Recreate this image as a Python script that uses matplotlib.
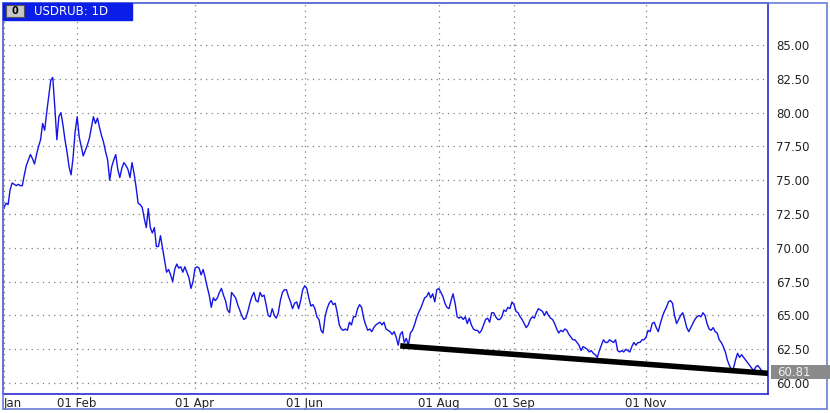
import matplotlib.pyplot as plt
from matplotlib.patches import Rectangle
from matplotlib.transforms import IdentityTransform

# daily closes, one value per bar (USDRUB, 1D)
closes = [
    73.0, 73.3, 73.2, 74.3, 74.8, 74.7, 74.6, 74.7, 74.6, 74.6,
    75.4, 76.1, 76.5, 76.9, 76.6, 76.2, 76.9, 77.5, 78.0, 79.2,
    78.7, 80.0, 81.2, 82.4, 82.6, 80.4, 78.0, 79.7, 80.0, 79.1,
    78.0, 77.1, 76.0, 75.4, 76.7, 78.6, 79.7, 78.2,
    77.5, 76.8, 77.2, 77.6, 78.1, 78.9, 79.7, 79.2, 79.6, 78.9,
    78.3, 77.8, 77.1, 76.5, 75.0, 76.0, 76.5, 76.9, 75.8, 75.2,
    75.9, 76.3, 76.1, 75.8, 75.2, 76.3, 75.5, 74.5, 73.3, 73.2,
    73.0, 72.2, 71.5, 72.9, 71.5, 71.1, 71.5, 70.1, 70.1, 70.9,
    70.0, 69.1, 68.2, 68.4, 68.0, 67.5, 68.4, 68.8, 68.5, 68.6,
    68.2, 68.6, 68.2, 67.8, 67.0, 67.5, 68.5, 68.6, 68.5, 68.0,
    68.4, 67.8, 67.1, 66.5, 65.6, 66.3, 66.1, 66.3, 66.7, 67.0,
    66.5, 66.1, 65.4, 65.2, 66.7, 66.5, 66.3, 65.8, 65.4, 65.0,
    64.7, 64.8, 65.3, 65.9, 66.4, 66.7, 66.1, 66.0, 66.7, 66.4,
    66.5, 65.8, 65.0, 64.9, 65.5, 65.0, 64.8, 65.2, 66.1, 66.7,
    66.9, 66.9, 66.4, 66.0, 65.5, 65.9, 66.0, 65.5, 66.1, 66.9,
    67.2, 67.0, 66.3, 65.7, 65.8, 65.5, 64.9, 64.7, 63.9, 63.7,
    64.9, 65.5, 65.9, 66.1, 65.8, 65.9, 65.2, 64.3, 64.0, 63.9,
    64.0, 63.9, 64.5, 64.3, 64.9, 64.9, 65.5, 65.8, 65.6, 64.8,
    64.3, 63.9, 64.0, 63.8, 64.1, 64.3, 64.4, 64.5, 64.3, 64.5,
    64.0, 63.9, 63.8, 63.6, 63.8, 63.4, 62.8, 63.6, 63.8, 63.0,
    63.3, 62.8, 63.7, 63.9, 64.3, 64.8, 65.2, 65.5, 65.9, 66.3,
    66.4, 66.7, 66.3, 66.6, 66.0, 66.9, 67.0, 66.7, 66.4, 65.9,
    65.6, 65.5, 66.1, 66.6, 65.9, 64.9, 64.8, 64.9, 64.7, 64.9,
    64.4, 64.8, 64.3, 64.0, 63.9, 63.9, 63.7, 63.9, 64.3, 64.7,
    64.8, 64.5, 65.2, 65.2, 64.9, 64.7, 64.7, 64.9, 65.4, 65.3,
    65.6, 65.5, 66.0, 65.8, 65.3, 65.2, 64.9, 64.7, 64.4, 64.1,
    64.3, 64.7, 64.9, 64.8, 65.2, 65.5, 65.4, 65.3, 65.0, 65.3,
    65.0, 64.8, 64.7, 64.4, 64.0, 63.7, 63.9, 63.8, 64.0, 63.9,
    63.6, 63.4, 63.2, 63.2, 63.0, 62.8, 62.4, 62.7, 62.6, 62.5,
    62.3, 62.4, 62.2, 62.1, 61.9, 62.4, 62.8, 63.2, 63.0, 63.0,
    63.2, 63.1, 63.0, 63.2, 62.4, 62.3, 62.4, 62.3, 62.5, 62.4,
    62.3, 62.7, 63.0, 62.8, 63.0, 63.0, 63.2, 63.2, 63.4, 63.9,
    63.8, 64.4, 64.5, 64.1, 63.8, 64.4, 64.9, 65.3, 65.6, 66.0,
    66.1, 65.9, 65.0, 64.4, 64.7, 65.0, 65.2, 64.7, 64.1, 63.8,
    64.1, 64.4, 64.7, 64.9, 65.0, 64.9, 65.2, 65.0, 64.4, 64.0,
    63.9, 64.1, 63.8, 63.7, 63.2, 63.0, 62.7, 62.3, 61.7, 61.3,
    61.0, 61.1, 61.7, 62.2, 61.9, 62.1, 61.9, 61.7, 61.5, 61.3,
    61.1, 60.9, 61.2, 61.3, 61.1, 60.9, 60.81,
]

tick_bars = [0, 36, 94, 148, 214, 251, 316]
tick_labels = ['Jan', '01 Feb', '01 Apr', '01 Jun', '01 Aug', '01 Sep', '01 Nov']
price_ticks = [60.0, 62.5, 65.0, 67.5, 70.0, 72.5, 75.0, 77.5, 80.0, 82.5, 85.0]

# drawn support line
trend_bars = [195, 376]
trend_vals = [62.75, 60.72]
last_price = 60.81

W, H = 830, 413
BORDER = '#2a2ad0'


def fx(px):
    return px / W


def fy(py):
    return 1 - py / H


fig = plt.figure(figsize=(W / 100, H / 100), dpi=100)
fig.patch.set_facecolor('white')

ax = fig.add_axes([fx(3), fy(394), fx(768) - fx(3), fy(3) - fy(394)])
ax.plot(range(len(closes)), closes, color='#1414e6', lw=1.0, zorder=3)
ax.plot(trend_bars, trend_vals, color='black', lw=4, solid_capstyle='butt', zorder=4)

ax.set_xlim(-0.5, 376.0)
ax.set_ylim(59.19, 88.11)

ax.set_xticks(tick_bars)
ax.set_xticklabels(tick_labels, fontsize=8.5)
ax.xaxis.get_majorticklabels()[0].set_horizontalalignment('left')
ax.set_yticks(price_ticks)
ax.set_yticklabels(['%.2f' % v for v in price_ticks], fontsize=8.5)
ax.yaxis.tick_right()
ax.tick_params(axis='y', length=0, pad=6, colors='#222222')
ax.tick_params(axis='x', length=0, pad=2, colors='#222222')

ax.grid(True, color='#808080', linestyle=(0, (1, 3.5)), linewidth=0.9)
ax.set_axisbelow(True)
for s in ax.spines.values():
    s.set_color(BORDER)
    s.set_linewidth(1.2)

# last price marker on the right axis (drawn over the 60.00 label)
y_px = ax.transData.transform((0, last_price))[1]
fig.add_artist(Rectangle((771, y_px - 7), 60, 14, transform=IdentityTransform(),
                         fc='#8a8a8a', ec='none', zorder=5))
fig.text(777, y_px, '%.2f' % last_price, transform=IdentityTransform(),
         fontsize=8.5, color='#eeeeee', ha='left', va='center', zorder=6)

# outer frame
fig.add_artist(Rectangle((fx(3), fy(409)), fx(827) - fx(3), fy(3) - fy(409),
                         transform=fig.transFigure, fill=False, ec='#6a7ed8', lw=1.2))

# title tab
fig.add_artist(Rectangle((fx(3), fy(20)), fx(132) - fx(3), fy(3) - fy(20),
                         transform=fig.transFigure, fc='#0a1ee8', ec='#0a1ee8', zorder=5))
fig.add_artist(Rectangle((fx(6), fy(17)), fx(18), fy(5) - fy(17),
                         transform=fig.transFigure, fc='#c8c8c8', ec='#555555', lw=0.8, zorder=6))
fig.text(fx(15), fy(11.5), '0', fontsize=7, fontweight='bold', color='black',
         ha='center', va='center', zorder=7)
fig.text(fx(34), fy(11.5), 'USDRUB: 1D', fontsize=8.5, color='white',
         ha='left', va='center', zorder=7)

fig.savefig('out.png', dpi=100)
